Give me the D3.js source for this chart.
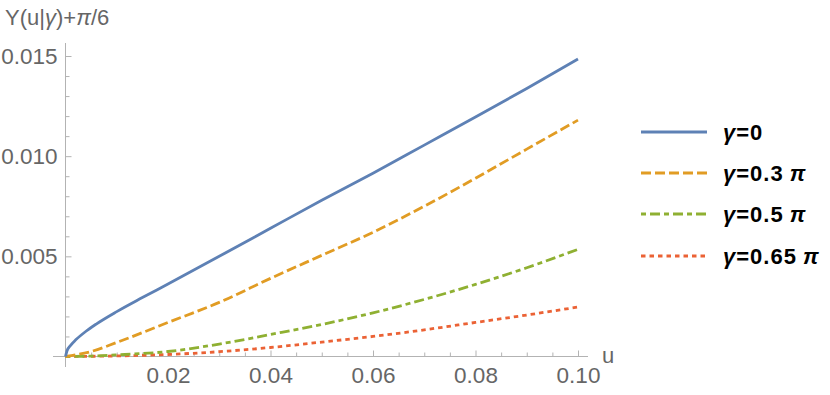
<!DOCTYPE html>
<html><head><meta charset="utf-8">
<script src="https://cdn.jsdelivr.net/npm/d3@7"></script>
<style>
html,body{margin:0;padding:0;background:#fff;}
svg{display:block;font-family:"Liberation Sans",Arial,sans-serif;}
</style></head>
<body><svg id="c" width="830" height="395"></svg>
<script>
// ---- data ----
const uBlue   = [0, 0.0003, 0.001, 0.002, 0.004, 0.006, 0.01, 0.015, 0.02, 0.03, 0.04, 0.05, 0.06, 0.07, 0.08, 0.09, 0.1];
const vBlue   = [0, 0.00029, 0.00056, 0.00083, 0.00126, 0.00162, 0.00224, 0.00294, 0.00362, 0.0050, 0.0064, 0.0078, 0.00915, 0.01055, 0.01195, 0.01338, 0.01485];
const uGrid   = [0, 0.005, 0.01, 0.02, 0.03, 0.04, 0.05, 0.06, 0.07, 0.08, 0.09, 0.1];
const vOrange = [0, 0.00025, 0.0007, 0.0017, 0.0027, 0.0039, 0.00505, 0.0062, 0.0075, 0.0089, 0.01035, 0.0118];
const vGreen  = [0, 0.00002, 0.00008, 0.00025, 0.00062, 0.0011, 0.0016, 0.00218, 0.00285, 0.0036, 0.00443, 0.00535];
const vRed    = [0, 0.00001, 0.00003, 0.0001, 0.00024, 0.00045, 0.00072, 0.001, 0.00133, 0.0017, 0.00207, 0.00247];
const seriesNames = ["0", "0.3", "0.5", "0.65"];
const xTicks = [0.02, 0.04, 0.06, 0.08, 0.10];
const yTicks = [0.005, 0.010, 0.015];

const colors = ["#5E81B5", "#E19C24", "#8FB032", "#EB6235"];
const dashes = [null, "10,4", "5,4,10,4", "4.5,4"];

const svg = d3.select("#c");
const x = d3.scaleLinear().domain([0, 0.1]).range([65.5, 578]);
const y = d3.scaleLinear().domain([0, 0.015]).range([356.5, 56]);

const axisCol = "#b3b3b3", labCol = "#666666";

// axis lines
svg.append("line").attr("x1", 53).attr("x2", 588).attr("y1", y(0)).attr("y2", y(0))
  .attr("stroke", axisCol).attr("stroke-width", 1);
svg.append("line").attr("x1", x(0)).attr("x2", x(0)).attr("y1", 43).attr("y2", 367)
  .attr("stroke", axisCol).attr("stroke-width", 1);

// x axis
const xMinor = d3.range(1, 21).map(i => i * 0.005).filter(v => Math.abs(v * 50 - Math.round(v * 50)) > 1e-6);
const gx = svg.append("g").attr("transform", `translate(0,${y(0)})`);
gx.call(d3.axisBottom(x).tickValues(xMinor).tickSize(-4).tickFormat(""));
gx.call(g => g.select(".domain").remove());
const gx2 = svg.append("g").attr("transform", `translate(0,${y(0)})`);
gx2.call(d3.axisBottom(x).tickValues(xTicks).tickSize(-6).tickPadding(11).tickFormat(d3.format(".2f")));
gx2.select(".domain").remove();
svg.selectAll("g line").attr("stroke", axisCol);
gx2.selectAll("text").attr("fill", labCol).attr("font-size", 22.5).attr("font-family", "Liberation Sans, Arial, sans-serif");

// y axis
const yMinor = d3.range(1, 16).map(i => i * 0.001).filter(v => Math.abs(v * 200 - Math.round(v * 200)) > 1e-6);
const gy = svg.append("g").attr("transform", `translate(${x(0)},0)`);
gy.call(d3.axisLeft(y).tickValues(yMinor).tickSize(-4).tickFormat(""));
gy.select(".domain").remove();
const gy2 = svg.append("g").attr("transform", `translate(${x(0)},0)`);
gy2.call(d3.axisLeft(y).tickValues(yTicks).tickSize(-6).tickPadding(8).tickFormat(d3.format(".3f")));
gy2.select(".domain").remove();
svg.selectAll("g line").attr("stroke", axisCol);
gy2.selectAll("text").attr("fill", labCol).attr("font-size", 22.5).attr("font-family", "Liberation Sans, Arial, sans-serif");

// axis labels
const title = svg.append("text").attr("x", 5).attr("y", 25).attr("fill", labCol).attr("font-size", 22);
title.append("tspan").text("Y(u|");
title.append("tspan").attr("font-style", "italic").text("γ");
title.append("tspan").text(")+");
title.append("tspan").attr("font-style", "italic").text("π");
title.append("tspan").text("/6");
svg.append("text").attr("x", 602).attr("y", 363).attr("fill", labCol).attr("font-size", 22).text("u");

// curves
const line = d3.line().x(d => x(d[0])).y(d => y(d[1])).curve(d3.curveMonotoneX);
const data = [
  d3.zip(uBlue, vBlue),
  d3.zip(uGrid, vOrange),
  d3.zip(uGrid, vGreen),
  d3.zip(uGrid, vRed)
];
[3, 2, 1, 0].forEach(i => {
  svg.append("path").datum(data[i]).attr("d", line)
    .attr("fill", "none").attr("stroke", colors[i]).attr("stroke-width", 2.8)
    .attr("stroke-dasharray", dashes[i]);
});

// legend
const rowY = [132, 173, 214, 256];
seriesNames.forEach((n, i) => {
  svg.append("line").attr("x1", 641).attr("x2", 707).attr("y1", rowY[i]).attr("y2", rowY[i])
    .attr("stroke", colors[i]).attr("stroke-width", 2.8).attr("stroke-dasharray", dashes[i]);
  const t = svg.append("text").attr("x", 723).attr("y", rowY[i]).attr("dy", "0.36em")
    .attr("font-size", 22).attr("font-weight", "bold").attr("fill", "#000")
    .attr("letter-spacing", 1);
  t.append("tspan").attr("font-style", "italic").text("γ");
  t.append("tspan").text("=" + n);
  if (i > 0) t.append("tspan").attr("dx", 6).attr("font-style", "italic").text("π");
});
</script></body></html>
